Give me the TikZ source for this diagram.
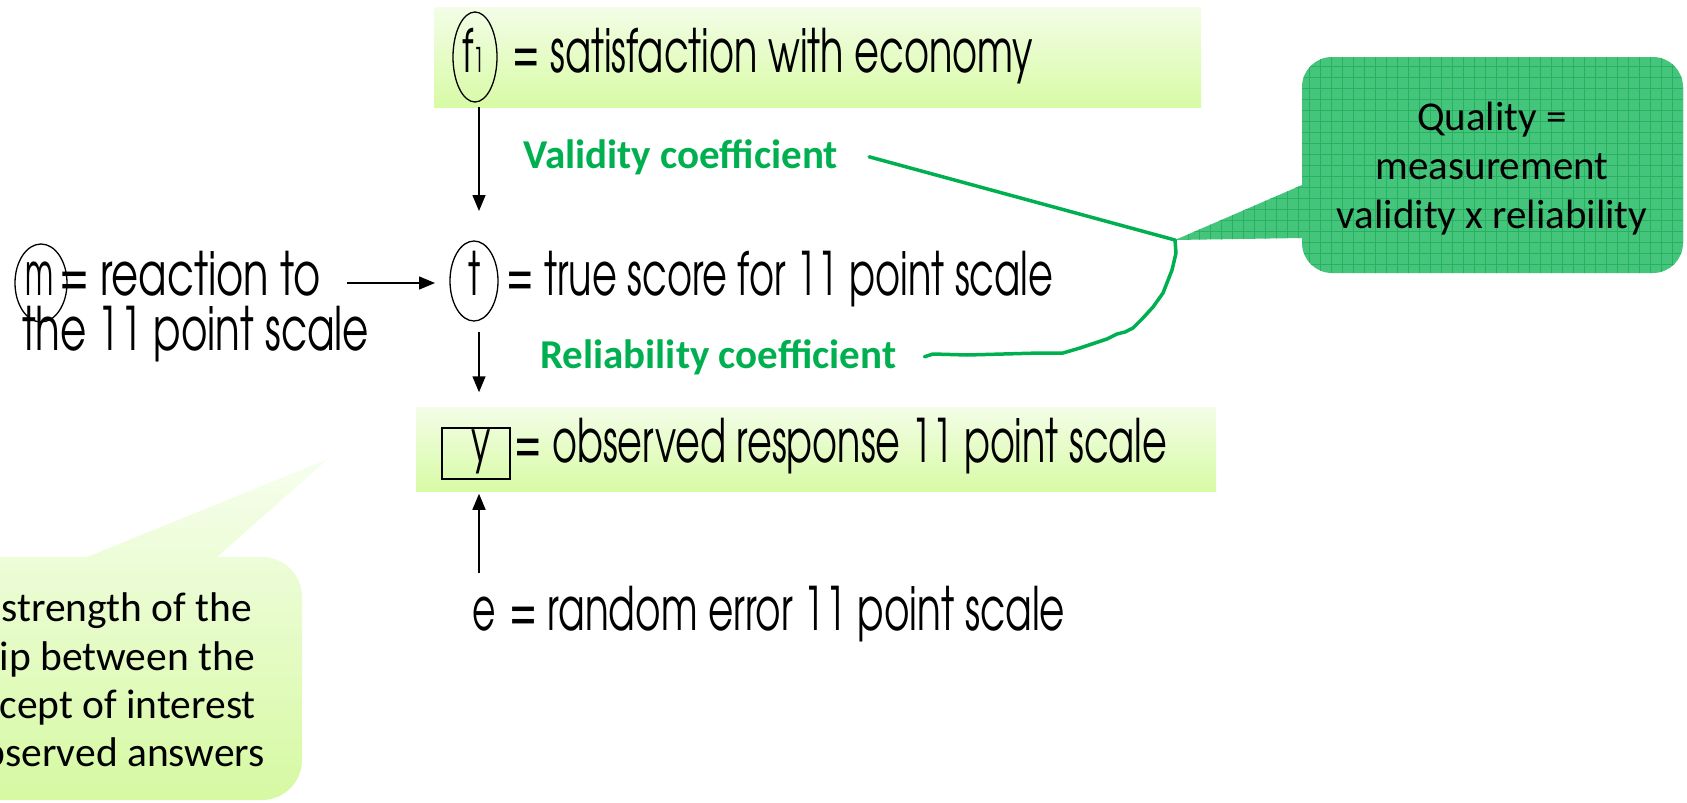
\documentclass[tikz,border=0pt]{standalone}
\usepackage{fontspec}
\usepackage{graphicx}
\usetikzlibrary{arrows.meta,shapes.geometric}
\IfFontExistsTF{texgyreadventor-regular.otf}{\newfontfamily\adv{texgyreadventor-regular.otf}}{\newfontfamily\adv{Poppins}}
\newfontfamily\calib{Carlito}
\newcommand\gw[2]{\resizebox{#1pt}{\height}{#2}}
\newcommand\gs[1]{\scalebox{0.6}[1]{#1}}
\definecolor{gtop}{HTML}{F3FDE7}
\definecolor{gbot}{HTML}{D8FBA5}
\definecolor{btop}{HTML}{F6FEEE}
\definecolor{bbot}{HTML}{D6F9A2}
\definecolor{ggreen}{HTML}{00B050}
\definecolor{qfill}{HTML}{45C57B}
\definecolor{qgrid}{HTML}{27B262}
\begin{document}
\begin{tikzpicture}[x=1pt,y=-1pt,
  gbox/.style={draw=none,inner sep=0,top color=gtop,bottom color=gbot},
  ellw/.style={line width=1.3pt},
  main/.style={font=\adv\fontsize{60}{70}\selectfont,inner sep=0,anchor=base west},
  glabel/.style={font=\calib\bfseries\fontsize{41}{48}\selectfont,text=ggreen,inner sep=0,anchor=base west},
  ctext/.style={font=\calib\fontsize{41.5}{48}\selectfont,inner sep=0},
  qtext/.style={font=\calib\fontsize{41}{48}\selectfont,inner sep=0,anchor=base},
  arr/.style={-{Triangle[length=16pt,width=13pt]},line width=1.5pt},
  gline/.style={ggreen,line width=3.5pt,line join=round,line cap=round}]
\useasboundingbox (0,0) rectangle (1687,803);
\clip (0,0) rectangle (1687,803);

% green boxes
\node[gbox,minimum width=767pt,minimum height=100pt] (topbox) at (817.5,57) {};
\node[gbox,minimum width=800pt,minimum height=84pt] (ybox) at (816,449) {};

% bottom-left callout
\shade[top color=btop,bottom color=bbot]
  (87,557) -- (328,459) -- (217,557) -- cycle
  [rounded corners=40pt] (-100,557) rectangle (302,800);

% quality callout
\coordinate (qtip) at (1175,240);
\fill[qfill,rounded corners=30pt] (1302,57) rectangle (1683,273);
\fill[qfill] (1302,185) -- (qtip) -- (1302,238) -- cycle;
\begin{scope}
  \clip[rounded corners=30pt] (1302,57) rectangle (1683,273);
  \draw[qgrid,line width=1pt,step=11pt] (1160,44) grid (1694,286);
\end{scope}
\begin{scope}
  \clip (1302,185) -- (qtip) -- (1302,238) -- cycle;
  \draw[qgrid,line width=1pt,step=11pt] (1160,44) grid (1694,286);
\end{scope}
\node[qtext] (q1) at (1492,130) {Quality =};
\node[qtext] (q2) at (1492,179) {measurement};
\node[qtext] (q3) at (1492,228) {validity x reliability};

% callout text
\node[ctext,anchor=base east] (b1) at (252,621) {strength of the};
\node[ctext,anchor=base east] (b2) at (255,670) {ip between the};
\node[ctext,anchor=base east] (b3) at (256,718) {cept of interest};
\node[ctext,anchor=base east] (b4) at (265,766) {observed answers};

% variables
\coordinate (cf1) at (475,57);
\coordinate (ct) at (474,281);
\coordinate (cm) at (41,283);
\draw[ellw] (cf1) ellipse [x radius=22pt,y radius=45pt];
\draw[ellw] (ct) ellipse [x radius=24pt,y radius=40pt];
\draw[ellw] (cm) ellipse [x radius=26pt,y radius=39pt];
\node[main] (f1) at (462,72) {\gs{f{\fontsize{34}{34}\selectfont 1}}};
\node[main,anchor=base] (t) at (475,295) {\gs{t}};
\node[main,anchor=base] (m) at (40,295) {\scalebox{0.5}[1]{m}};
\node[draw,line width=1.5pt,minimum width=68pt,minimum height=51pt,inner sep=0] (y) at (476,453.5) {};
\node[main,anchor=base] (yl) at (481,462) {\gs{y}};

\node[main] (lf1) at (512,72) {\gw{521}{= satisfaction with economy}};
\node[main] (lt) at (506,295) {\gw{547}{= true score for 11 point scale}};
\node[main] (lm) at (59,295) {\gw{262}{= reaction to}};
\node[main] (lm2) at (22,350) {\gw{347}{the 11 point scale}};
\node[main] (ly) at (514,462) {\gw{653}{= observed response 11 point scale}};
\node[main] (e) at (472,630) {\gs{e}};
\node[main] (le) at (509,630) {\gw{556}{= random error 11 point scale}};

\node[glabel] (val) at (523,168) {Validity coefficient};
\node[glabel] (rel) at (540,368) {Reliability coefficient};

% arrows
\coordinate (yx) at ([xshift=3pt]y.south);
\draw[arr] ([xshift=4pt,yshift=-50pt]cf1) -- ([xshift=5pt,yshift=70pt]ct);
\draw[arr] ([xshift=5pt,yshift=-51pt]ct) -- ([xshift=3pt,yshift=35pt]y.north);
\draw[arr] ([yshift=23pt]e.north -| yx) -- ([yshift=-14pt]yx);
\draw[arr] ([xshift=26pt]lm.east |- cm) -- ([xshift=-39pt]ct |- cm);

% green connectors
\draw[gline] ([xshift=31pt]val.east) -- (qtip);
\draw[gline] ([xshift=28pt]rel.east) -- (933,354) -- (967,355) -- (1040,353) -- (1063,353)
  -- (1080,348) -- (1107,339) -- (1117,334) -- (1125,332) -- (1133,328) -- (1143,318)
  -- (1153,307) -- (1163,293) -- (1172,270) -- (1176,253) -- (qtip);
\end{tikzpicture}
\end{document}
